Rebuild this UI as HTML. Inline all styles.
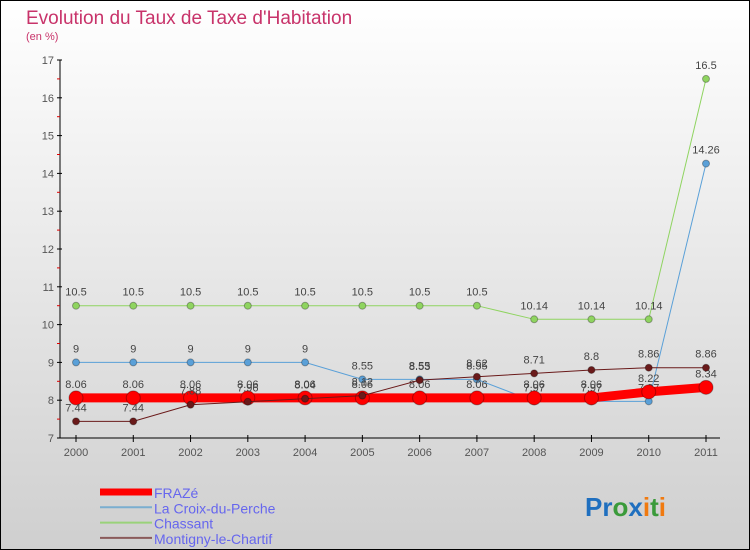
<!DOCTYPE html>
<html><head><meta charset="utf-8"><style>
body{margin:0}
#wrap{position:relative;width:750px;height:550px;box-sizing:border-box;border:1px solid #000;background:linear-gradient(#ffffff,#cfcfcf);font-family:"Liberation Sans",sans-serif;overflow:hidden}
</style></head><body>
<div id="wrap">
<svg id="svg" width="750" height="550" style="position:absolute;left:-1px;top:-1px">
<text x="26" y="24" font-size="19" fill="#c8336a">Evolution du Taux de Taxe d'Habitation</text>
<text x="26" y="40" font-size="11" fill="#c8336a">(en %)</text>
<g id="axes"></g><g id="series"></g><g id="legend"></g>
<text x="585" y="516" font-size="26" font-weight="bold"><tspan fill="#1f6fbf">Pr</tspan><tspan fill="#3a9a3a">o</tspan><tspan fill="#1f6fbf">x</tspan><tspan fill="#f07a10">i</tspan><tspan fill="#3a9a3a">t</tspan><tspan fill="#f07a10">i</tspan></text>
</svg>
</div>
<script>
const years=[2000,2001,2002,2003,2004,2005,2006,2007,2008,2009,2010,2011];
const yTicks=[7,8,9,10,11,12,13,14,15,16,17];
const fraze=[8.06,8.06,8.06,8.06,8.06,8.06,8.06,8.06,8.06,8.06,8.22,8.34];
const croix=[9,9,9,9,9,8.55,8.55,8.55,7.97,7.97,7.97,14.26];
const chassant=[10.5,10.5,10.5,10.5,10.5,10.5,10.5,10.5,10.14,10.14,10.14,16.5];
const montigny=[7.44,7.44,7.88,7.96,8.04,8.12,8.53,8.62,8.71,8.8,8.86,8.86];
const NS="http://www.w3.org/2000/svg";
function X(i){return 76+i*(706-76)/(years.length-1);}
function Y(v){return 438-(v-7)*37.8;}
function mk(tag,attrs,parent){const e=document.createElementNS(NS,tag);for(const k in attrs)e.setAttribute(k,attrs[k]);parent.appendChild(e);return e;}
const ax=document.getElementById('axes');
let yl=mk('line',{x1:60,y1:Y(17),x2:60,y2:438,stroke:'#000'},ax);

let xl=mk('line',{x1:60,y1:438,x2:720,y2:438,stroke:'#000'},ax);

yTicks.forEach(v=>{
 mk('line',{x1:57,y1:Y(v),x2:62,y2:Y(v),stroke:'#000'},ax);
 if(v<17)mk('line',{x1:57,y1:Y(v+0.5),x2:60,y2:Y(v+0.5),stroke:'#d00'},ax);
 const t=mk('text',{x:54,y:Y(v)+4,'font-size':11,fill:'#555','text-anchor':'end'},ax);t.textContent=v;
 
});
years.forEach((yr,i)=>{
 mk('line',{x1:X(i),y1:435,x2:X(i),y2:442,stroke:'#000'},ax);
 const t=mk('text',{x:X(i),y:456,'font-size':11,fill:'#555','text-anchor':'middle'},ax);t.textContent=yr;
 
});
const sg=document.getElementById('series');
function draw(name,data,color,w,r,labelColor){
 const g=mk('g',{},sg);
 
 mk('polyline',{points:data.map((v,i)=>X(i)+','+Y(v)).join(' '),fill:'none',stroke:color,'stroke-width':w},g);
 data.forEach((v,i)=>{
  const c=mk('circle',{cx:X(i),cy:Y(v),r:r,fill:color,stroke:'rgba(0,0,0,0.3)'},g);
  
  const t=mk('text',{x:X(i),y:Y(v)-10,'font-size':11,fill:'#444','text-anchor':'middle'},g);t.textContent=v;
  
 });
}
draw('chassant',chassant,'#8fd460',1,3.5);
draw('croix',croix,'#5aa0d8',1,3.5);
draw('fraze',fraze,'#ff0000',9,7);
draw('montigny',montigny,'#6a1a1a',1,3.5);
const lg=document.getElementById('legend');
const leg=[['FRAZé','#ff0000',7],['La Croix-du-Perche','#7aaed0',2],['Chassant','#9ad27a',2],['Montigny-le-Chartif','#8a5a5a',2]];
leg.forEach((l,i)=>{
 const y=492+i*15.3;
 const e=mk('g',{},lg);
 
 mk('line',{x1:100,y1:y,x2:152,y2:y,stroke:l[1],'stroke-width':l[2]},e);
 const t=mk('text',{x:154,y:y+6,'font-size':14,fill:'#6666ee'},e);t.textContent=l[0];
});
</script>
</body></html>
